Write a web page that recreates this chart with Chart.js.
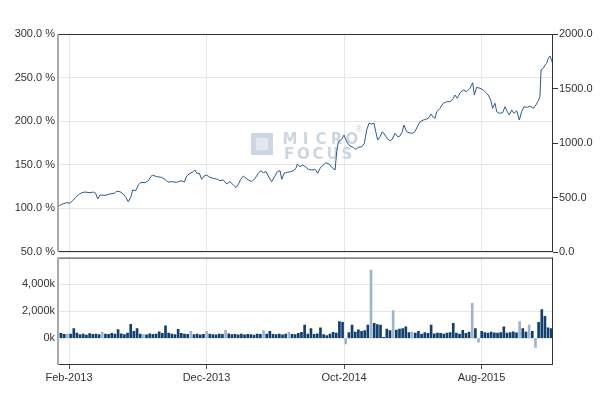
<!DOCTYPE html>
<html>
<head>
<meta charset="utf-8">
<script src="https://cdn.jsdelivr.net/npm/chart.js@4"></script>
<style>
  body { margin: 0; background: #fff; }
  #wrap { position: relative; width: 600px; height: 395px; }
  #priceChart { position: absolute; left: 0; top: 0; }
  #volChart { position: absolute; left: 0; top: 248px; }
</style>
</head>
<body>
<div id="wrap">
  <canvas id="priceChart" width="600" height="262"></canvas>
  <canvas id="volChart" width="600" height="147"></canvas>
</div>
<script>
// x values are months counted from 1 Jan 2013 (1 = Feb-2013)
const tickMonths = [1, 11, 21, 31];
const tickLabels = ["Feb-2013", "Dec-2013", "Oct-2014", "Aug-2015"];

// price line (right axis)
const priceMonths = [0.18, 0.47, 0.83, 1.07, 1.31, 1.49, 1.68, 1.92, 2.16, 2.53, 2.77, 2.94, 3.09, 3.25, 3.62, 3.98,
  4.29, 4.47, 4.71, 4.95, 5.15, 5.31, 5.51, 5.63, 5.85, 6.04, 6.24, 6.53, 6.77, 6.96, 7.06, 7.38, 7.74, 8.03,
  8.18, 8.47, 8.83, 9.15, 9.39, 9.56, 9.80, 10.04, 10.16, 10.29, 10.48, 10.65, 10.82, 11.01, 11.25, 11.49,
  11.79, 11.98, 12.22, 12.47, 12.71, 12.95, 13.15, 13.31, 13.49, 13.68, 13.87, 14.04, 14.29, 14.53, 14.77,
  14.94, 15.13, 15.33, 15.49, 15.74, 15.98, 16.15, 16.35, 16.47, 16.64, 16.88, 17.12, 17.31, 17.51, 17.60,
  17.80, 18.00, 18.24, 18.40, 18.65, 18.89, 19.09, 19.25, 19.49, 19.67, 19.91, 20.11, 20.35, 20.47, 20.59,
  20.83, 21.00, 21.15, 21.27, 21.44, 21.68, 21.85, 22.04, 22.29, 22.48, 22.65, 22.82, 23.01, 23.18, 23.31,
  23.45, 23.62, 23.79, 23.98, 24.18, 24.35, 24.51, 24.71, 24.91, 25.07, 25.24, 25.36, 25.56, 25.73, 25.97,
  26.16, 26.36, 26.53, 26.77, 26.94, 27.13, 27.33, 27.49, 27.62, 27.74, 27.98, 28.22, 28.47, 28.71, 28.91,
  29.07, 29.24, 29.44, 29.68, 29.92, 30.16, 30.36, 30.48, 30.65, 30.89, 31.13, 31.33, 31.49, 31.67, 31.81,
  31.98, 32.11, 32.29, 32.54, 32.71, 32.88, 33.02, 33.20, 33.36, 33.56, 33.75, 33.92, 34.09, 34.33, 34.53,
  34.77, 34.96, 35.13, 35.25, 35.33, 35.49, 35.62, 35.74, 35.86, 35.98, 36.11, 36.20];
const priceValues = [416, 438, 452, 447, 477, 502, 523, 544, 550, 544, 550, 539, 486, 523, 520, 532,
  539, 557, 553, 532, 498, 461, 507, 569, 562, 615, 639, 636, 654, 691, 706, 691, 685, 661,
  642, 645, 639, 654, 642, 697, 722, 737, 752, 722, 722, 667, 697, 706, 685, 676,
  667, 654, 661, 624, 645, 615, 590, 621, 667, 697, 676, 661, 645, 676, 722,
  746, 727, 737, 697, 645, 697, 737, 746, 667, 722, 731, 737, 746, 768, 807,
  783, 798, 777, 759, 752, 759, 722, 768, 798, 819, 807, 777, 752, 920, 1012,
  1034, 1073, 1027, 997, 972, 960, 942, 960, 966, 997, 1119, 1181, 1174, 1181, 1104,
  1027, 1058, 1104, 1073, 1034, 1021, 1034, 1089, 1058, 1064, 1104, 1165, 1104, 1094, 1089,
  1104, 1156, 1195, 1211, 1217, 1227, 1266, 1236, 1227, 1287, 1318, 1364, 1379, 1379, 1401,
  1440, 1410, 1461, 1486, 1471, 1502, 1553, 1440, 1511, 1502, 1486, 1461, 1440, 1394, 1318,
  1364, 1287, 1272, 1278, 1333, 1287, 1257, 1303, 1272, 1296, 1211, 1287, 1333, 1327, 1339,
  1318, 1349, 1388, 1425, 1670, 1685, 1716, 1731, 1777, 1798, 1755, 1716];

// weekly volume (thousands), first week starting 7 Jan 2013
const volStartMonth = 0.2;
const volWeekMonths = 7 / 30.44;
const volValues = [410, 350, 280, 330, 300, 720, 380, 260, 300, 220, 340, 280, 310, 260, 460, 300,
  280, 350, 300, 640, 330, 270, 380, 1030, 500, 720, 300, 260, 250, 330, 280, 300,
  480, 350, 920, 380, 300, 260, 650, 350, 300, 280, 500, 260, 300, 240, 280, 500,
  300, 260, 240, 300, 280, 600, 330, 260, 280, 250, 310, 240, 280, 260, 230, 300,
  280, 560, 300, 500, 280, 260, 310, 250, 300, 450, 280, 260, 350, 430, 970, 300,
  720, 280, 330, 770, 260, 200, 300, 440, 380, 1230, 1180, -430, 420, 970, 450, 620,
  500, 560, 970, 5070, 1100, 1020, 970, 60, 670, 560, 2050, 600, 670, 720, 850, 420,
  450, 380, 500, 300, 420, 350, 970, 320, 380, 350, 300, 380, 420, 1100, 380, 300,
  590, 350, 460, 2590, 720, -300, 500, 420, 380, 450, 400, 380, 420, 850, 380, 420,
  480, 400, 1230, 720, 450, 970, 500, -690, 1180, 2120, 1620, 770, 720];
const volDownWeeks = [3, 14, 27, 42, 47, 53, 65, 73, 91, 99, 106, 112, 131, 133, 146, 149, 151];

const lineColor = '#2c5b8b';
const darkBar = '#123f6e';
const lightBar = '#9fb5cd';
const gridColor = '#e6e6e6';
const textColor = '#333';
const tickFont = { family: 'Arial, "Liberation Sans", sans-serif', size: 11 };

const frame = {
  id: 'frame',
  afterDraw(chart) {
    const { ctx, chartArea: a } = chart;
    ctx.save();
    ctx.strokeStyle = '#333';
    ctx.lineWidth = 1;
    ctx.beginPath();
    ctx.moveTo(a.left, a.top + 0.5); ctx.lineTo(a.right, a.top + 0.5);
    ctx.moveTo(a.right - 0.5, a.top); ctx.lineTo(a.right - 0.5, a.bottom);
    ctx.moveTo(a.left, a.bottom - 0.5); ctx.lineTo(a.right, a.bottom - 0.5);
    ctx.stroke();
    ctx.strokeStyle = '#aaa';
    ctx.lineWidth = 2;
    ctx.beginPath();
    ctx.moveTo(a.left, a.top); ctx.lineTo(a.left, a.bottom);
    ctx.stroke();
    ctx.restore();
  }
};

const watermark = {
  id: 'watermark',
  beforeDatasetsDraw(chart) {
    const ctx = chart.ctx;
    ctx.save();
    ctx.fillStyle = '#cdd7e1';
    ctx.fillRect(251, 133, 22, 22);
    ctx.fillStyle = '#e2e8ee';
    ctx.fillRect(256, 138, 12, 12);
    ctx.fillStyle = '#cdd7e1';
    ctx.font = 'bold 15px "DejaVu Sans", sans-serif';
    ctx.textAlign = 'center';
    ctx.textBaseline = 'alphabetic';
    const w1 = 'MICRO', w2 = 'FOCUS';
    for (let i = 0; i < w1.length; i++) ctx.fillText(w1[i], 290 + i * 15.5, 144);
    for (let i = 0; i < w2.length; i++) ctx.fillText(w2[i], 289 + i * 14.5, 159);
    ctx.font = '8px "DejaVu Sans", sans-serif';
    ctx.fillText('®', 359, 132);
    ctx.restore();
  }
};

new Chart(document.getElementById('priceChart'), {
  type: 'line',
  data: {
    datasets: [{
      data: priceMonths.map((m, i) => ({ x: m, y: priceValues[i] })),
      yAxisID: 'yPrice',
      borderColor: lineColor,
      borderWidth: 1,
      pointRadius: 0,
      tension: 0,
      fill: false
    }]
  },
  options: {
    responsive: false,
    animation: false,
    layout: { padding: { top: 34, bottom: 0, left: 0, right: 0 } },
    plugins: { legend: { display: false }, tooltip: { enabled: false } },
    scales: {
      x: {
        type: 'linear', min: 0.2, max: 36.2,
        afterBuildTicks: s => { s.ticks = tickMonths.map(v => ({ value: v })); },
        ticks: { display: false },
        grid: { color: gridColor, drawTicks: false },
        border: { display: false },
        afterFit: s => { s.height = 10; }
      },
      yPct: {
        position: 'left', min: 50, max: 300,
        ticks: { stepSize: 50, color: textColor, font: tickFont, padding: 3, callback: v => v.toFixed(1) + ' %' },
        grid: { color: gridColor, drawTicks: false },
        border: { display: false },
        afterFit: s => { s.width = 58; }
      },
      yPrice: {
        position: 'right', min: 0, max: 2000,
        ticks: { stepSize: 500, color: textColor, font: tickFont, padding: 1, callback: v => v.toFixed(1) },
        grid: { drawOnChartArea: false, tickLength: 5, tickColor: '#333' },
        border: { display: false },
        afterFit: s => { s.width = 47; }
      }
    }
  },
  plugins: [watermark, frame]
});

new Chart(document.getElementById('volChart'), {
  type: 'bar',
  data: {
    datasets: [{
      data: volValues.map((v, i) => ({ x: volStartMonth + i * volWeekMonths, y: v })),
      backgroundColor: volValues.map((v, i) => volDownWeeks.includes(i) ? lightBar : darkBar),
      barThickness: 2,
      borderWidth: 0
    }]
  },
  options: {
    responsive: false,
    animation: false,
    layout: { padding: { top: 0, bottom: 0, left: 0, right: 47 } },
    plugins: { legend: { display: false }, tooltip: { enabled: false } },
    scales: {
      x: {
        type: 'linear', min: 0.2, max: 36.2, offset: false,
        afterBuildTicks: s => { s.ticks = tickMonths.map(v => ({ value: v })); },
        ticks: { color: textColor, font: tickFont, padding: 2, maxRotation: 0,
          callback: v => tickLabels[tickMonths.indexOf(v)] },
        grid: { color: gridColor, tickLength: 4, tickColor: '#555', offset: false },
        border: { display: false },
        afterFit: s => { s.height = 30; }
      },
      y: {
        min: -2000, max: 6000,
        ticks: { stepSize: 2000, color: textColor, font: tickFont, padding: 3,
          callback: v => (v >= 0 && v <= 4000) ? v.toLocaleString('en-US') + 'k' : null },
        grid: { color: gridColor, drawTicks: false },
        border: { display: false },
        afterFit: s => { s.width = 58; }
      }
    }
  },
  plugins: [frame]
});
</script>
</body>
</html>
